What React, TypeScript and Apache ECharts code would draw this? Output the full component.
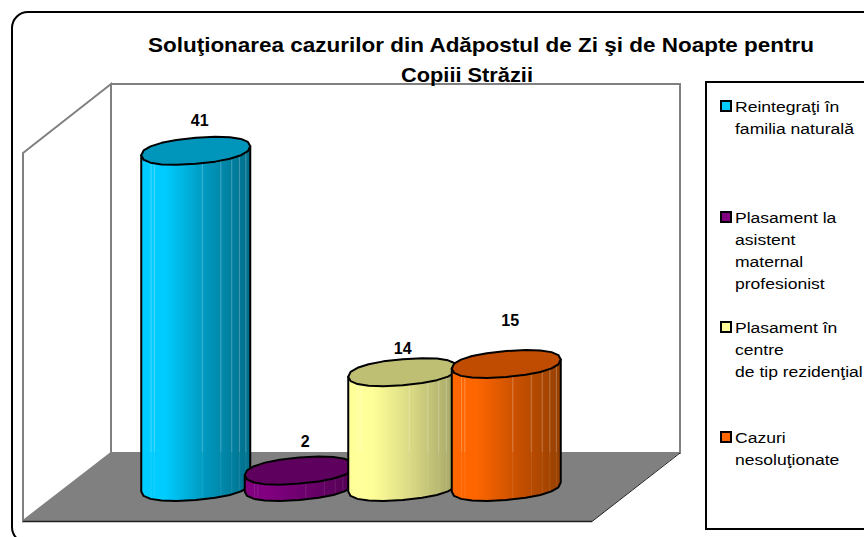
import React, { useEffect, useRef } from "react";
import * as echarts from "echarts";

// ---- data ----
const titleLines = ["Soluţionarea cazurilor din Adăpostul de Zi şi de Noapte pentru", "Copiii Străzii"];
const categories = ["Reintegraţi în familia naturală", "Plasament la asistent maternal profesionist", "Plasament în centre de tip rezidenţial", "Cazuri nesoluţionate"];
const values = [41, 2, 14, 15];
const legendLines = [
  ["Reintegraţi în", "familia naturală"],
  ["Plasament la", "asistent", "maternal", "profesionist"],
  ["Plasament în", "centre", "de tip rezidenţial"],
  ["Cazuri", "nesoluţionate"],
];
const colors = [
  { base: "#00CCFF", mid: "#0096BC", dark: "#006E8A", top: "#0096BC" },
  { base: "#800080", mid: "#6A006A", dark: "#520052", top: "#5E005E" },
  { base: "#FFFF99", mid: "#D6D683", dark: "#A3A366", top: "#BFBF73" },
  { base: "#FF6600", mid: "#C85000", dark: "#964000", top: "#BF4C00" },
];

// ---- layout / style ----
const FONT = "'Liberation Sans', Arial, sans-serif";
const RX = 54.5;
const RY = 13;
const SHEAR = -0.0826;
const ROUNDNESS = 0.88;
const LABEL_LIFT = [30, 29, 24, 44];
const LABEL_SHIFT = [4, 6, 0, 4];
const FLOOR_BACK_Y = 452;
const STREAKS = [0.09, 0.12, 0.56, 0.73, 0.83, 0.9, 0.96];
const LEGEND_TOPS = [106, 217, 327, 437];

const ellipsePoint = (cx: number, cy: number, t: number): number[] => {
  const c = Math.cos(t);
  const s = Math.sin(t);
  const dx = RX * Math.sign(c) * Math.pow(Math.abs(c), ROUNDNESS);
  const dy = RY * Math.sign(s) * Math.pow(Math.abs(s), ROUNDNESS);
  return [cx + dx, cy + dy + SHEAR * dx];
};

const renderCylinder = (params: any, api: any) => {
  const i = api.value(0) as number;
  const v = api.value(1) as number;
  const [cx, topY] = api.coord([i, v]);
  const [, baseY] = api.coord([i, 0]);
  const c = colors[i];
  const N = 20;
  const lower: number[][] = [];
  for (let k = 0; k <= N / 2; k++) lower.push(ellipsePoint(cx, baseY, Math.PI - (k * 2 * Math.PI) / N));
  const lid: number[][] = [];
  for (let k = 0; k < N; k++) lid.push(ellipsePoint(cx, topY, (k * 2 * Math.PI) / N));
  const leftTop = ellipsePoint(cx, topY, Math.PI);
  const rightTop = ellipsePoint(cx, topY, 0);
  const body = [leftTop, ...lower, rightTop];
  const fill = new echarts.graphic.LinearGradient(0, 0, 1, 0, [
    { offset: 0, color: c.base },
    { offset: 0.22, color: c.base },
    { offset: 0.6, color: c.mid },
    { offset: 1, color: c.dark },
  ]);
  const streaks: any[] = [];
  STREAKS.forEach((f) => {
    const x = cx - RX + f * 2 * RX;
    const t = Math.acos((x - cx) / RX);
    const yTop = topY + RY * Math.sin(t) + SHEAR * (x - cx);
    const yBot = baseY + RY * Math.sin(t) + SHEAR * (x - cx);
    const split = Math.min(Math.max(FLOOR_BACK_Y, yTop), yBot);
    if (split > yTop) streaks.push({ type: "line", shape: { x1: x, y1: yTop, x2: x, y2: split }, style: { stroke: "rgba(255,255,255,0.28)", lineWidth: 1 } });
    if (yBot > split) streaks.push({ type: "line", shape: { x1: x, y1: split, x2: x, y2: yBot - 1 }, style: { stroke: "rgba(255,255,255,0.1)", lineWidth: 1 } });
  });
  return {
    type: "group",
    children: [
      { type: "polygon", shape: { points: body }, style: { fill, stroke: "#000", lineWidth: 2, lineJoin: "round" } },
      ...streaks,
      { type: "polygon", shape: { points: lid }, style: { fill: c.top, stroke: "#000", lineWidth: 2, lineJoin: "round" } },
      {
        type: "text",
        x: cx + LABEL_SHIFT[i],
        y: topY - LABEL_LIFT[i],
        style: { text: String(v), font: `bold 16px ${FONT}`, fill: "#000", align: "center", verticalAlign: "middle" },
      },
    ],
  };
};

const frame = (): any[] => {
  const wall = { fill: "#fff", stroke: "#808080", lineWidth: 2 };
  const els: any[] = [
    { type: "rect", z: -10, shape: { x: 12, y: 12, width: 920, height: 531, r: 16 }, style: { fill: "#fff", stroke: "#000", lineWidth: 2 } },
    { type: "polygon", z: -9, shape: { points: [[111, 84], [680, 84], [680, 453], [111, 453]] }, style: wall },
    { type: "polygon", z: -9, shape: { points: [[23, 153], [111, 84], [111, 453], [23, 521]] }, style: wall },
    { type: "polygon", z: -8, shape: { points: [[23, 521.5], [111, 452.5], [680, 452.5], [592, 521.5]] }, style: { fill: "#808080" } },
    { type: "line", z: -8, shape: { x1: 23, y1: 521.5, x2: 592, y2: 521.5 }, style: { stroke: "#222", lineWidth: 1.5 } },
    { type: "line", z: -8, shape: { x1: 592, y1: 521.5, x2: 680, y2: 453 }, style: { stroke: "#222", lineWidth: 1 } },
    { type: "rect", z: -8, shape: { x: 706, y: 82, width: 200, height: 447 }, style: { fill: "#fff", stroke: "#000", lineWidth: 2 } },
    // Title above everything else, stretched to the reference's wide screen metrics.
    { type: "text", z: 20, x: 481, y: 45, scaleX: 1.125, style: { text: titleLines[0], font: `bold 20px ${FONT}`, fill: "#000", align: "center", verticalAlign: "middle" } },
    { type: "text", z: 20, x: 467, y: 75, scaleX: 1.09, style: { text: titleLines[1], font: `bold 20px ${FONT}`, fill: "#000", align: "center", verticalAlign: "middle" } },
  ];
  legendLines.forEach((lines, i) => {
    els.push({ type: "rect", z: 10, shape: { x: 721, y: LEGEND_TOPS[i] - 5, width: 10, height: 10 }, style: { fill: colors[i].base, stroke: "#000", lineWidth: 2 } });
    lines.forEach((line, j) => {
      els.push({
        type: "text",
        z: 10,
        x: 735,
        y: LEGEND_TOPS[i] + j * 22,
        scaleX: 1.17,
        style: { text: line, font: `15px ${FONT}`, fill: "#000", align: "left", verticalAlign: "middle" },
      });
    });
  });
  return els;
};

export default function App() {
  const ref = useRef<HTMLDivElement>(null);
  useEffect(() => {
    const chart = echarts.init(ref.current!, undefined, { renderer: "svg" });
    chart.setOption({
      animation: false,
      backgroundColor: "#fff",
      grid: { left: 144, right: 306, top: 118, bottom: 50 },
      xAxis: { type: "category", data: categories, show: false },
      yAxis: { type: "value", min: 0, max: 45, interval: 5, show: false },
      graphic: { elements: frame() },
      series: [
        {
          type: "custom",
          clip: false,
          renderItem: renderCylinder,
          encode: { x: 0, y: 1 },
          data: values.map((v, i) => ({ name: categories[i], value: [i, v] })),
          z: 5,
        },
      ],
    });
    return () => chart.dispose();
  }, []);
  return <div ref={ref} style={{ position: "fixed", left: 0, top: 0, width: 864, height: 537 }} />;
}
